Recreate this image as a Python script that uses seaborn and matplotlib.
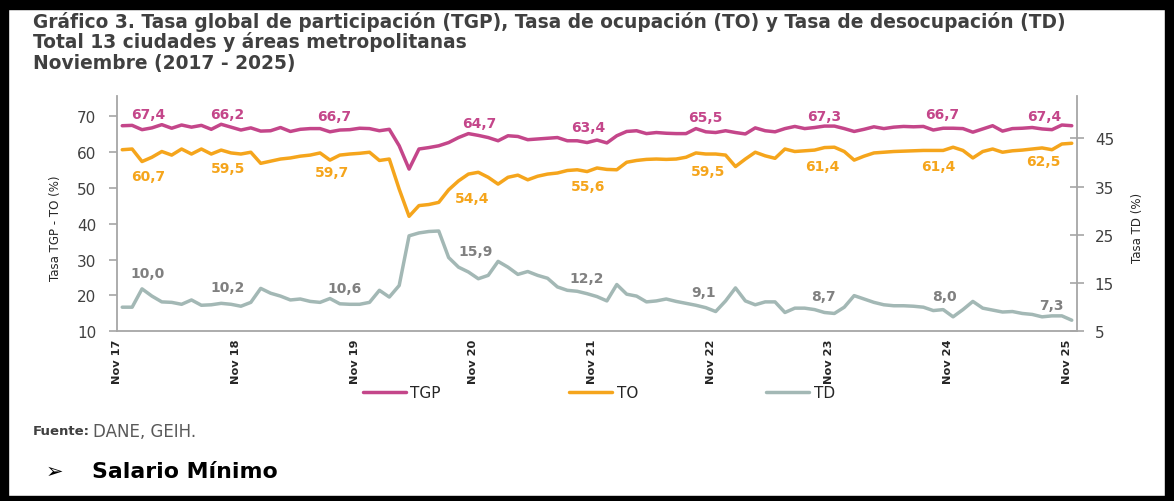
import numpy as np
import pandas as pd
import matplotlib
matplotlib.use("Agg")
import matplotlib.pyplot as plt
import seaborn as sns
from matplotlib.patches import Rectangle

# Monthly series, Nov 2017 - Nov 2025 (13 ciudades y A.M.)
tgp = [67.4, 67.5, 66.3, 66.8, 67.7, 66.7, 67.6, 67.0, 67.5, 66.4, 67.8, 67.0,
       66.2, 66.8, 65.9, 66.0, 66.9, 65.8, 66.4, 66.6, 66.6, 65.7, 66.2, 66.3,
       66.7, 66.6, 66.0, 66.4, 61.8, 55.3, 60.9, 61.3, 61.8, 62.7, 64.1, 65.2,
       64.7, 64.1, 63.2, 64.6, 64.4, 63.5, 63.7, 63.9, 64.1, 63.2, 63.2, 62.7,
       63.4, 62.6, 64.6, 65.8, 66.0, 65.2, 65.5, 65.3, 65.2, 65.2, 66.6, 65.7,
       65.5, 66.0, 65.5, 65.1, 66.8, 66.0, 65.7, 66.6, 67.2, 66.6, 66.9, 67.3,
       67.3, 66.6, 65.8, 66.4, 67.1, 66.6, 67.0, 67.2, 67.1, 67.2, 66.2, 66.7,
       66.7, 66.6, 65.6, 66.5, 67.4, 65.9, 66.6, 66.7, 66.9, 66.5, 66.3, 67.6,
       67.4]
to = [60.7, 60.9, 57.4, 58.6, 60.2, 59.2, 60.9, 59.5, 60.9, 59.5, 60.6, 59.8,
      59.5, 60.0, 56.9, 57.5, 58.1, 58.4, 58.9, 59.2, 59.8, 57.8, 59.2, 59.5,
      59.7, 60.0, 57.7, 58.1, 49.7, 42.1, 45.1, 45.4, 46.0, 49.5, 52.0, 53.9,
      54.4, 53.0, 51.1, 53.0, 53.6, 52.3, 53.3, 53.9, 54.2, 54.9, 55.1, 54.6,
      55.6, 55.2, 55.1, 57.2, 57.7, 58.0, 58.1, 58.0, 58.1, 58.6, 59.8, 59.5,
      59.5, 59.2, 56.0, 58.1, 60.0, 59.0, 58.3, 60.9, 60.2, 60.4, 60.6, 61.3,
      61.4, 60.2, 57.8, 58.9, 59.8, 60.0, 60.2, 60.3, 60.4, 60.5, 60.5, 60.5,
      61.4, 60.5, 58.4, 60.2, 60.9, 60.0, 60.4, 60.6, 60.9, 61.2, 60.7, 62.3,
      62.5]
td = [10.0, 10.0, 13.8, 12.3, 11.1, 11.0, 10.6, 11.5, 10.4, 10.5, 10.8, 10.6,
      10.2, 11.0, 13.9, 12.9, 12.3, 11.5, 11.7, 11.2, 11.0, 11.8, 10.7, 10.6,
      10.6, 11.0, 13.5, 12.1, 14.5, 24.8, 25.4, 25.7, 25.8, 20.3, 18.3, 17.3,
      15.9, 16.6, 19.5, 18.3, 16.8, 17.4, 16.6, 16.0, 14.2, 13.5, 13.3, 12.8,
      12.2, 11.3, 14.7, 12.7, 12.3, 11.1, 11.3, 11.7, 11.2, 10.8, 10.4, 9.9,
      9.1, 11.3, 14.0, 11.3, 10.5, 11.1, 11.1, 8.9, 9.8, 9.8, 9.5, 8.9,
      8.7, 10.0, 12.4, 11.7, 11.0, 10.5, 10.3, 10.3, 10.2, 10.0, 9.3, 9.5,
      8.0, 9.5, 11.2, 9.8, 9.4, 9.0, 9.1, 8.7, 8.5, 8.0, 8.2, 8.2,
      7.3]
tick_labels = ["Nov 17", "Nov 18", "Nov 19", "Nov 20", "Nov 21",
               "Nov 22", "Nov 23", "Nov 24", "Nov 25"]

months = np.arange(len(tgp))
df = pd.DataFrame({"mes": months, "TGP": tgp, "TO": to, "TD": td})
nov_idx = months[::12]

c_tgp = "#C4468A"
c_to = "#F5A51C"
c_td = "#A3B8B5"
c_td_txt = "#808080"
c_axis = "#A6A6A6"
c_txt = "#404040"

# label offsets in pixels (dx, dy) relative to the November point
off_tgp = [(26, 12), (-14, 16), (-25, 12), (1, 12), (-9, 13), (-10, 16), (-10, 10), (-11, 14), (-28, 10)]
off_to = [(26, -26), (-13, -14), (-28, -19), (-6, -26), (-9, -18), (-8, -17), (-12, -19), (-15, -19), (-28, -18)]
off_td = [(25, 34), (-13, 19), (-15, 16), (-3, 28), (-10, 19), (-12, 20), (-11, 17), (-9, 21), (-20, 15)]

sns.set_theme(style="white")
plt.rcParams["font.family"] = ["DejaVu Sans"]

W, H = 1174, 502
fig = plt.figure(figsize=(W / 100, H / 100), dpi=100)
ax = fig.add_axes([117.3 / W, 1 - 332.3 / H, (1076.7 - 117.3) / W, (332.3 - 97) / H])
ax2 = ax.twinx()

sns.lineplot(data=df, x="mes", y="TGP", ax=ax, color=c_tgp, lw=2.5, label="TGP", legend=False)
sns.lineplot(data=df, x="mes", y="TO", ax=ax, color=c_to, lw=2.5, label="TO", legend=False)
sns.lineplot(data=df, x="mes", y="TD", ax=ax2, color=c_td, lw=2.5, label="TD", legend=False)

ax.set_xlim(-0.5, len(tgp) - 0.5)
ax.set_ylim(10, 75.7)
ax2.set_ylim(5, 53.8)
ax.set_yticks([10, 20, 30, 40, 50, 60, 70])
ax2.set_yticks([5, 15, 25, 35, 45])
ax.set_xticks(nov_idx - 0.5)
ax.set_xticklabels(tick_labels, rotation=90, fontsize=8.2, color="#262626", fontweight="bold")
ax.set_xlabel("")
ax.set_ylabel("")
ax2.set_ylabel("")

for a in (ax, ax2):
    for s in a.spines.values():
        s.set_color(c_axis)
        s.set_linewidth(1.3)
    a.spines["top"].set_visible(False)
    a.grid(False)
ax.spines["right"].set_visible(False)
ax2.spines["left"].set_visible(False)
ax2.spines["bottom"].set_visible(False)

ax.tick_params(axis="y", direction="out", length=6, width=1.2, color=c_axis, pad=9,
               labelsize=11, labelcolor=c_txt)
ax.tick_params(axis="x", direction="inout", length=5, width=1.2, color=c_axis, pad=3)
ax2.tick_params(axis="y", direction="inout", length=10, width=1.2, color=c_axis, pad=8,
                labelsize=11, labelcolor=c_txt)

for i, k in enumerate(nov_idx):
    ax.annotate(f"{tgp[k]:.1f}".replace(".", ","), xy=(k, tgp[k]), xytext=off_tgp[i],
                textcoords="offset pixels", ha="center", va="center",
                fontsize=10, fontweight="bold", color=c_tgp)
    ax.annotate(f"{to[k]:.1f}".replace(".", ","), xy=(k, to[k]), xytext=off_to[i],
                textcoords="offset pixels", ha="center", va="center",
                fontsize=10, fontweight="bold", color=c_to)
    ax2.annotate(f"{td[k]:.1f}".replace(".", ","), xy=(k, td[k]), xytext=off_td[i],
                 textcoords="offset pixels", ha="center", va="center",
                 fontsize=10, fontweight="bold", color=c_td_txt)

fig.text(55 / W, 1 - 228 / H, "Tasa TGP - TO (%)", rotation=90, ha="center", va="center",
         fontsize=8.5, color="#262626")
fig.text(1138 / W, 1 - 228 / H, "Tasa TD (%)", rotation=90, ha="center", va="center",
         fontsize=8.5, color="#262626")

# legend
h1, l1 = ax.get_legend_handles_labels()
h2, l2 = ax2.get_legend_handles_labels()
fig.legend(h1 + h2, l1 + l2, loc="center", bbox_to_anchor=(599 / W, 1 - 394 / H), ncol=3,
           frameon=False, fontsize=11, handlelength=2.8, handletextpad=0.3,
           columnspacing=8.4, labelcolor="#262626")

# titles
titulo = ["Gráfico 3. Tasa global de participación (TGP), Tasa de ocupación (TO) y Tasa de desocupación (TD)",
          "Total 13 ciudades y áreas metropolitanas",
          "Noviembre (2017 - 2025)"]
for j, t in enumerate(titulo):
    fig.text(33 / W, 1 - (22 + 20.5 * j) / H, t, ha="left", va="center",
             fontsize=13.4, fontweight="bold", color=c_txt)

fig.text(33 / W, 1 - 432 / H, "Fuente:", ha="left", va="center", fontsize=9.5,
         fontweight="bold", color=c_txt)
fig.text(93 / W, 1 - 432 / H, "DANE, GEIH.", ha="left", va="center", fontsize=12,
         color="#595959")
fig.text(46 / W, 1 - 472 / H, "➢", ha="left", va="center", fontsize=15, color="black")
fig.text(92 / W, 1 - 472 / H, "Salario Mínimo", ha="left", va="center", fontsize=15.8,
         fontweight="bold", color="black")

# black screenshot frame
for (x0, y0, w, h) in [(0, 0, W, 10), (0, 0, 8, H), (W - 9, 0, 9, H), (0, H - 5, W, 5)]:
    fig.patches.append(Rectangle((x0 / W, 1 - (y0 + h) / H), w / W, h / H,
                                 transform=fig.transFigure, color="black", zorder=10))

fig.savefig("out.png", dpi=100)
